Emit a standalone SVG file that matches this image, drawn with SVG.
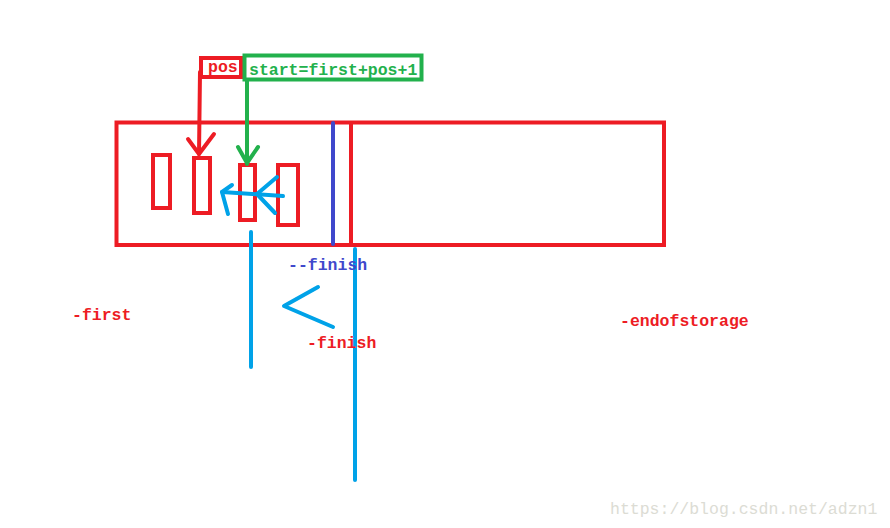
<svg xmlns="http://www.w3.org/2000/svg" width="890" height="528" viewBox="0 0 890 528">
<style>
.r{fill:none;stroke:#ed1c24;stroke-width:4}
.g{fill:none;stroke:#22b14c;stroke-width:4}
.b{fill:none;stroke:#00a2e8;stroke-width:4;stroke-linecap:round;stroke-linejoin:round}
.t{font-family:"Liberation Mono",monospace;font-size:16.5px;font-weight:bold}
.rl{fill:none;stroke:#ed1c24;stroke-width:4;stroke-linecap:round;stroke-linejoin:round}
.gl{fill:none;stroke:#22b14c;stroke-width:4;stroke-linecap:round;stroke-linejoin:round}
</style>
<rect width="890" height="528" fill="#fff"/>
<g id="storage">
<rect class="r" x="116.5" y="122.5" width="547.5" height="122.5"/>
<line x1="351" y1="122" x2="351" y2="245" stroke="#ed1c24" stroke-width="4"/>
<line x1="333" y1="123" x2="333" y2="244" stroke="#3f48cc" stroke-width="4" stroke-linecap="round"/>
</g>
<g id="elem1"><rect class="r" x="153" y="155" width="17" height="53"/></g>
<g id="elem2"><rect class="r" x="194" y="158" width="16" height="55"/></g>
<g id="elem3"><rect class="r" x="240" y="165" width="15" height="55"/></g>
<g id="elem4"><rect class="r" x="278" y="165" width="20" height="60"/></g>
<g id="pos"><rect class="r" x="201" y="58" width="40" height="19"/>
<text class="t" x="208" y="72" fill="#ed1c24">pos</text></g>
<g id="start"><rect class="g" x="244.5" y="55.5" width="177" height="24"/>
<text class="t" x="249" y="75" fill="#22b14c">start=first+pos+1</text></g>
<g id="connectors">
<polyline class="rl" points="200,72 199,154"/>
<polyline class="rl" points="188,139 199,154 214,134"/>
<polyline class="gl" points="247,80 247,164"/>
<polyline class="gl" points="238,147 247,163 258,147"/>
<polyline class="b" points="283,196 222,192"/>
<polyline class="b" points="232,185 222,192 228,214"/>
<polyline class="b" points="277,177 257,194 275,213"/>
<line class="b" x1="251" y1="232" x2="251" y2="367"/>
<line class="b" x1="355" y1="249" x2="355" y2="480"/>
<polyline class="b" points="318,287 284,306 333,327"/>
</g>
<g id="labels">
<text class="t" x="288" y="270" fill="#3f48cc">--finish</text>
<text class="t" x="307" y="348" fill="#ed1c24">-finish</text>
<text class="t" x="72" y="320" fill="#ed1c24">-first</text>
<text class="t" x="620" y="326" fill="#ed1c24">-endofstorage</text>
<text x="610" y="514" font-family="Liberation Mono,monospace" font-size="16.5px" fill="#dcdcd4">https://blog.csdn.net/adzn1</text>
</g>
</svg>
